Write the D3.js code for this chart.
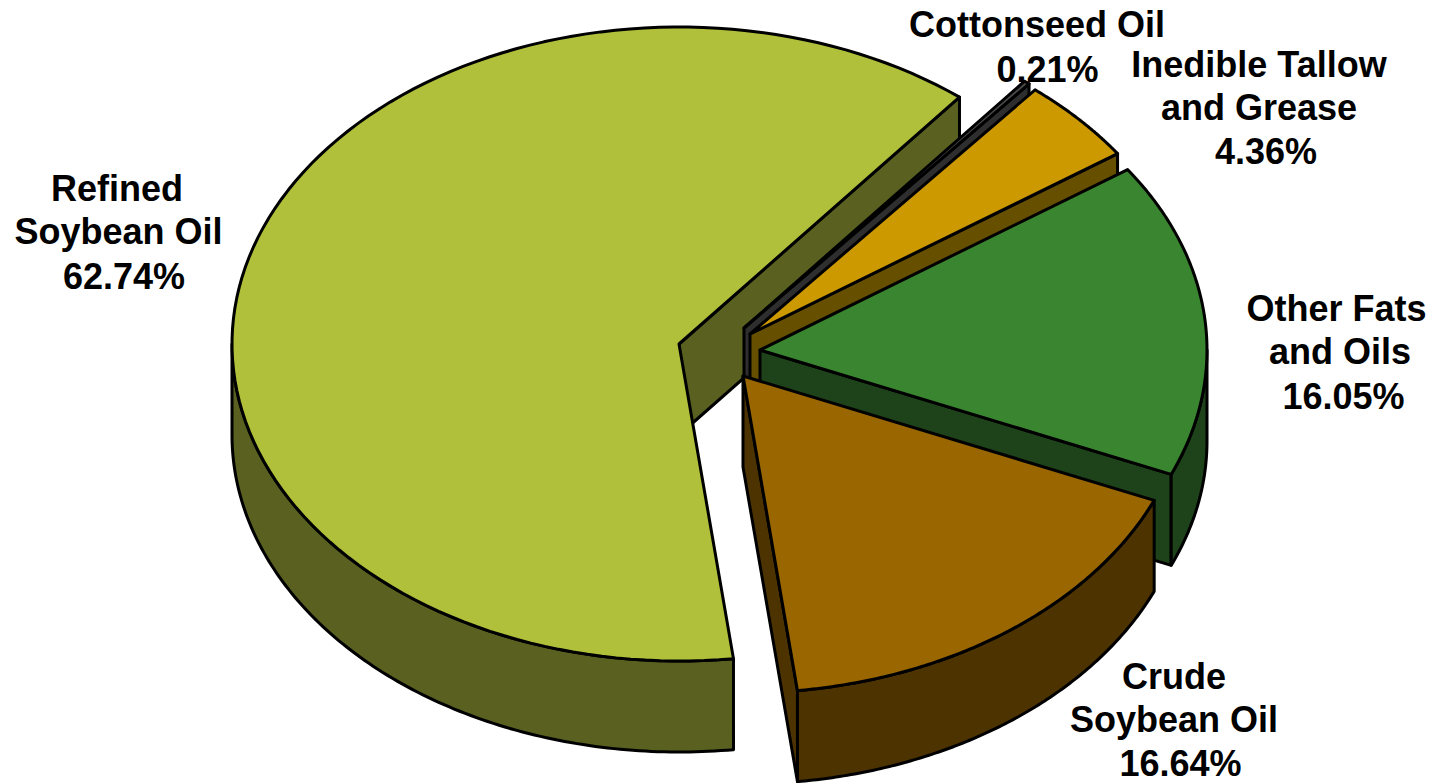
<!DOCTYPE html>
<html>
<head>
<meta charset="utf-8">
<script src="https://cdn.jsdelivr.net/npm/d3@7/dist/d3.min.js"></script>
<style>
html,body{margin:0;padding:0;background:#fff;overflow:hidden}
text{font-family:"Liberation Sans",Arial,sans-serif;font-weight:700;font-size:36px;fill:#000;text-anchor:middle}
</style>
</head>
<body>
<svg id="c" width="1436" height="783"></svg>
<script>
// Data, clockwise from the front edge of the largest slice
const categories = ["Refined Soybean Oil","Cottonseed Oil","Inedible Tallow and Grease","Other Fats and Oils","Crude Soybean Oil"];
const shares = [62.74,0.21,4.36,16.05,16.64];
const shareLabels = ["62.74%","0.21%","4.36%","16.05%","16.64%"];
const topColors = ["#B0C03A","#4A4A4A","#CC9900","#3A8530","#996600"];
const sideColors = ["#596020","#2E2E2E","#665000","#1E421A","#4D3300"];

// Layout
const rx = 447, ry = 317, depth = 91;
const startDeg = 173.0;
const apexX = [679,744,750,760,743];
const apexY = [344,328,334,350,376];
const labelLines = [
  [["Refined",117,201],["Soybean Oil",118.5,244],["62.74%",124,289]],
  [["Cottonseed Oil",1037,37],["0.21%",1047.5,82]],
  [["Inedible Tallow",1259,77],["and Grease",1259,120],["4.36%",1266,164]],
  [["Other Fats",1336.5,321],["and Oils",1340,364],["16.05%",1343.5,409]],
  [["Crude",1174,689],["Soybean Oil",1174,732],["16.64%",1180.5,776]]
];

const svg = d3.select("#c");
const TAU = 2*Math.PI, HALF = Math.PI;
const pie = d3.pie().sort(null).value(d=>d)
  .startAngle(startDeg*Math.PI/180).endAngle(startDeg*Math.PI/180+TAU);
const arcs = pie(shares);
const lineGen = d3.line();

arcs.forEach((a,i)=>{
  const x = d3.scaleLinear().domain([-1,1]).range([apexX[i]-rx,apexX[i]+rx]);
  const y = d3.scaleLinear().domain([-1,1]).range([apexY[i]-ry,apexY[i]+ry]);
  const pt = (t,dz=0)=>[x(Math.sin(t)),y(-Math.cos(t))+dz];
  const apex = (dz=0)=>[x(0),y(0)+dz];
  const g = svg.append("g").attr("data-name",categories[i]);
  const style = (p,fill)=>p.attr("fill",fill).attr("stroke","#000")
    .attr("stroke-width",3).attr("stroke-linejoin","round");

  // cut wall on the closing edge, facing the viewer when sin(end) > 0
  if (Math.sin(a.endAngle) > 0) {
    style(g.append("path").attr("d",lineGen([apex(),pt(a.endAngle),pt(a.endAngle,depth),apex(depth)])+"Z"),sideColors[i]);
  }
  // cut wall on the opening edge, facing the viewer when sin(start) < 0
  if (Math.sin(a.startAngle) < 0) {
    style(g.append("path").attr("d",lineGen([apex(),pt(a.startAngle),pt(a.startAngle,depth),apex(depth)])+"Z"),sideColors[i]);
  }
  // outer rim: the part of the arc in the front half of the ellipse
  const sample = (t0,t1)=>d3.range(0,121).map(k=>t0+(t1-t0)*k/120);
  [0,TAU].forEach(shift=>{
    const t0 = Math.max(a.startAngle, HALF/2+shift);
    const t1 = Math.min(a.endAngle, 3*HALF/2+shift);
    if (t1>t0) {
      const ts = sample(t0,t1);
      const pts = ts.map(t=>pt(t)).concat(ts.slice().reverse().map(t=>pt(t,depth)));
      style(g.append("path").attr("d",lineGen(pts)+"Z"),sideColors[i]);
    }
  });
  // top face
  const top = [apex()].concat(sample(a.startAngle,a.endAngle).map(t=>pt(t)));
  style(g.append("path").attr("d",lineGen(top)+"Z"),topColors[i]);
});

const labels = svg.append("g");
labelLines.forEach(lines=>lines.forEach(l=>{
  labels.append("text").attr("x",l[1]).attr("y",l[2]).text(l[0]);
}));
</script>
</body>
</html>
